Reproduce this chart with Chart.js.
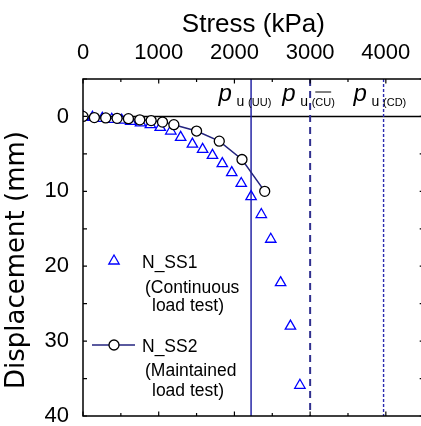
<!DOCTYPE html>
<html>
<head>
<meta charset="utf-8">
<script src="https://cdn.jsdelivr.net/npm/chart.js@4.4.1/dist/chart.umd.min.js"></script>
<style>
  html, body { margin: 0; padding: 0; background: #fff; overflow: hidden; }
  #wrap { width: 431px; height: 426px; }
</style>
</head>
<body>
<div id="wrap"><canvas id="c" width="431" height="426"></canvas></div>
<script>
// N_SS1: continuous load test (stress kPa, displacement mm)
const ss1Stress = [0, 125, 255, 380, 510, 630, 760, 890, 1020, 1160, 1290, 1445, 1580, 1710, 1840, 1965, 2090, 2220, 2355, 2480, 2610, 2740, 2865];
const ss1Disp   = [0, 0.12, 0.25, 0.38, 0.5, 0.65, 0.85, 1.1, 1.45, 1.95, 2.8, 3.7, 4.4, 5.2, 6.3, 7.5, 8.95, 10.7, 13.1, 16.4, 22.2, 28.0, 35.9];

// N_SS2: maintained load test
const ss2Stress = [0, 150, 300, 450, 600, 750, 900, 1050, 1200, 1500, 1800, 2100, 2400];
const ss2Disp   = [0, 0.15, 0.2, 0.25, 0.3, 0.45, 0.55, 0.75, 1.1, 1.95, 3.3, 5.75, 10.0];

// ultimate bearing stress references
const refNames  = ['(UU)', '(CU)', '(CD)'];
const refStress = [2220, 3000, 3970];

const xTickValues = [0, 1000, 2000, 3000, 4000];
const yTickValues = [0, 10, 20, 30, 40];
const xRange = [0, 4500];
const yRange = [-5, 40];

const pts = (xs, ys) => xs.map((x, i) => ({ x: x, y: ys[i] }));
const vline = x => [{ x: x, y: yRange[0] }, { x: x, y: yRange[1] }];

const FONT = '"Liberation Sans", Arial, sans-serif';

// frame, inward ticks, reference labels, legend, y title
const decor = {
  id: 'decor',
  afterDraw(chart) {
    const { ctx, chartArea: a, scales: { x, y } } = chart;
    ctx.save();
    ctx.strokeStyle = '#000';
    ctx.lineWidth = 1.5;
    ctx.beginPath();
    ctx.rect(a.left, a.top, a.right - a.left, a.bottom - a.top);
    ctx.stroke();

    ctx.lineWidth = 1.2;
    ctx.beginPath();
    for (let v = xRange[0]; v <= xRange[1]; v += 500) {
      const px = x.getPixelForValue(v);
      const len = v % 1000 === 0 ? 4.5 : 3;
      ctx.moveTo(px, a.top); ctx.lineTo(px, a.top + len);
      ctx.moveTo(px, a.bottom); ctx.lineTo(px, a.bottom - len);
    }
    for (let v = yRange[0]; v <= yRange[1]; v += 5) {
      const py = y.getPixelForValue(v);
      ctx.moveTo(a.left, py); ctx.lineTo(a.left + 4, py);
      ctx.moveTo(a.right, py); ctx.lineTo(a.right - 4, py);
    }
    ctx.stroke();

    // p_u labels beside each reference line
    const shifts = [-32.5, -28, -30];
    ctx.fillStyle = '#000';
    ctx.strokeStyle = '#000';
    ctx.textBaseline = 'alphabetic';
    ctx.textAlign = 'left';
    refStress.forEach((s, i) => {
      const lx = x.getPixelForValue(s) + shifts[i];
      ctx.font = 'italic 24px ' + FONT;
      ctx.fillText('p', lx, 101);
      ctx.font = '14px ' + FONT;
      ctx.fillText('u', lx + 18, 105.5);
      ctx.font = '11px ' + FONT;
      ctx.fillText(refNames[i], lx + 29.5, 105.5);
      if (i === 1) {
        const w = ctx.measureText('CU').width;
        const l0 = lx + 29.5 + ctx.measureText('(').width;
        ctx.lineWidth = 1;
        ctx.beginPath();
        ctx.moveTo(l0, 92); ctx.lineTo(l0 + w, 92);
        ctx.stroke();
      }
    });

    // legend
    ctx.font = '17.5px ' + FONT;
    ctx.fillText('N_SS1', 142, 267.5);
    ctx.fillText('(Continuous', 145, 292.5);
    ctx.fillText('load test)', 152, 311);
    ctx.fillText('N_SS2', 142, 352);
    ctx.fillText('(Maintained', 145, 376);
    ctx.fillText('load test)', 152, 396);

    const r = 6, tx = 114, ty = 261;
    ctx.strokeStyle = '#0000ff';
    ctx.lineWidth = 1.3;
    ctx.beginPath();
    ctx.moveTo(tx, ty - r);
    ctx.lineTo(tx + r * Math.sin(2 * Math.PI / 3), ty - r * Math.cos(2 * Math.PI / 3));
    ctx.lineTo(tx + r * Math.sin(4 * Math.PI / 3), ty - r * Math.cos(4 * Math.PI / 3));
    ctx.closePath();
    ctx.stroke();

    ctx.strokeStyle = '#23237f';
    ctx.lineWidth = 1.5;
    ctx.beginPath();
    ctx.moveTo(92, 345); ctx.lineTo(135, 345);
    ctx.stroke();
    ctx.fillStyle = '#fff';
    ctx.strokeStyle = '#000';
    ctx.lineWidth = 1.3;
    ctx.beginPath();
    ctx.arc(114, 345, 5, 0, Math.PI * 2);
    ctx.fill(); ctx.stroke();

    // y axis title
    ctx.fillStyle = '#000';
    ctx.font = '26px "DejaVu Sans", sans-serif';
    ctx.translate(17, 260);
    ctx.rotate(-Math.PI / 2);
    ctx.textAlign = 'center';
    ctx.textBaseline = 'middle';
    ctx.fillText('Displacement (mm)', 0, 0);
    ctx.restore();
  }
};

new Chart(document.getElementById('c'), {
  type: 'scatter',
  data: {
    datasets: [
      {
        label: 'N_SS2', data: pts(ss2Stress, ss2Disp), showLine: true,
        borderColor: '#23237f', borderWidth: 1.5,
        pointStyle: 'circle', pointRadius: 5, pointBorderColor: '#000',
        pointBackgroundColor: '#fff', pointBorderWidth: 1.3, order: 1
      },
      {
        label: 'N_SS1', data: pts(ss1Stress, ss1Disp), showLine: false,
        pointStyle: 'triangle', pointRadius: 6, pointBorderColor: '#0000ff',
        pointBackgroundColor: 'rgba(0,0,0,0)', pointBorderWidth: 1.3, order: 2
      },
      {
        label: 'UU', data: vline(refStress[0]), showLine: true, pointRadius: 0,
        borderColor: '#2626a6', borderWidth: 1.5, order: 3
      },
      {
        label: 'CU', data: vline(refStress[1]), showLine: true, pointRadius: 0,
        borderColor: '#30308f', borderWidth: 2, borderDash: [7, 5], order: 3
      },
      {
        label: 'CD', data: vline(refStress[2]), showLine: true, pointRadius: 0,
        borderColor: '#2a2ab0', borderWidth: 1.4, borderDash: [3, 2], order: 3
      },
      {
        label: 'zero', data: [{ x: xRange[0], y: 0 }, { x: xRange[1], y: 0 }], showLine: true,
        pointRadius: 0, borderColor: '#000', borderWidth: 1.6, order: 3
      }
    ]
  },
  options: {
    responsive: false,
    animation: false,
    devicePixelRatio: 1,
    layout: { padding: { left: 0, right: 1, top: 0, bottom: 10 } },
    plugins: { legend: { display: false }, tooltip: { enabled: false } },
    scales: {
      x: {
        type: 'linear', position: 'top', min: xRange[0], max: xRange[1],
        grid: { display: false }, border: { display: false },
        afterBuildTicks: s => { s.ticks = xTickValues.map(v => ({ value: v })); },
        afterFit: s => { s.height = 79; s.paddingLeft = 0; s.paddingRight = 0; },
        ticks: { font: { family: FONT, size: 22 }, color: '#000', padding: 5, maxRotation: 0,
                 autoSkip: false, callback: v => String(v) },
        title: { display: true, text: 'Stress (kPa)', color: '#000',
                 font: { family: FONT, size: 26 }, padding: { top: 9, bottom: 0 } }
      },
      y: {
        type: 'linear', reverse: true, min: yRange[0], max: yRange[1],
        grid: { display: false }, border: { display: false },
        afterBuildTicks: s => { s.ticks = yTickValues.map(v => ({ value: v })); },
        afterFit: s => { s.width = 83; s.paddingTop = 0; s.paddingBottom = 0; },
        ticks: { font: { family: FONT, size: 22 }, color: '#000', padding: 6,
                 autoSkip: false, callback: v => String(v) }
      }
    }
  },
  plugins: [decor]
});
</script>
</body>
</html>
